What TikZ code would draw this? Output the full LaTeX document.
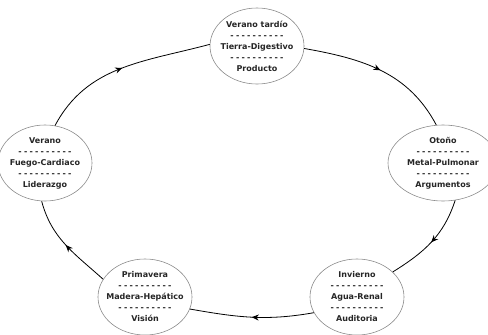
\documentclass[tikz,border=0pt]{standalone}
\usepackage{fontspec}
\setmainfont{DejaVu Sans}
\usetikzlibrary{shapes.geometric,decorations.markings,arrows.meta}

% row of loose hyphens between the lines of a season
\newcommand{\dashrow}{-\foreach \k in {2,...,10}{\kern2.2pt-}}

\tikzset{
  season/.style={ellipse, draw=black!45, line width=0.6pt, fill=white, align=center,
    font=\fontsize{8}{11}\selectfont\bfseries, text=black!85,
    inner xsep=-10pt, inner ysep=-6pt, minimum width=94pt, minimum height=76pt},
  cycle/.style={line width=0.8pt, postaction={decorate}, decoration={markings,
    mark=at position 0.5 with {\arrow{Stealth[length=7pt,width=6pt]}}}}
}

\begin{document}
\begin{tikzpicture}[x=1pt,y=-1pt]
  \useasboundingbox (0,0) rectangle (488,335);
  % the five seasons round a big ellipse
  \node[season] (tardio) at (257,46) {Verano tardío\\\dashrow\\Tierra-Digestivo\\\dashrow\\Producto};
  \node[season, minimum width=110pt] (otono) at (443,163) {Otoño\\\dashrow\\Metal-Pulmonar\\\dashrow\\Argumentos};
  \node[season] (invierno) at (357,297) {Invierno\\\dashrow\\Agua-Renal\\\dashrow\\Auditoria};
  \node[season] (primavera) at (145,297) {Primavera\\\dashrow\\Madera-Hepático\\\dashrow\\Visión};
  \node[season] (verano) at (45,163) {Verano\\\dashrow\\Fuego-Cardiaco\\\dashrow\\Liderazgo};

  % arcs, clockwise
  \draw[cycle] (tardio.-3) to[out=-10,in=118] (otono.100);
  \draw[cycle] (otono.-72) to[out=-108,in=32] (invierno.35);
  \draw[cycle] (invierno.200) to[out=190,in=-10] (primavera.-15);
  \draw[cycle] (primavera.157) to[out=138,in=-75] (verano.-95);
  \draw[cycle] (verano.75) to[out=62,in=195] (tardio.178);
\end{tikzpicture}
\end{document}
